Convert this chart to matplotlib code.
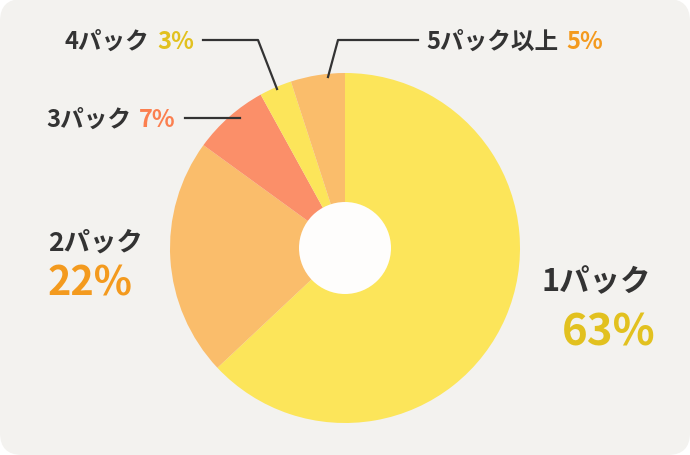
import matplotlib
matplotlib.use("Agg")
import matplotlib.pyplot as plt
from matplotlib.patches import FancyBboxPatch, Circle

plt.rcParams['font.family'] = ['Noto Sans CJK JP', 'DejaVu Sans']

categories = ['1パック', '2パック', '3パック', '4パック', '5パック以上']
values = [63, 22, 7, 3, 5]
pct_labels = ['63%', '22%', '7%', '3%', '5%']
slice_colors = ['#fce55a', '#fabd6b', '#fb8f69', '#fce55a', '#fabd6b']
pct_colors = ['#e2c11f', '#f39a1e', '#fb7f4f', '#e2c11f', '#f39a1e']
text_color = '#333333'

W, H = 690, 456
fig = plt.figure(figsize=(W / 100, H / 100), dpi=100, facecolor='white')
ax = fig.add_axes([0, 0, 1, 1])

def Y(y):
    return H - y

cx, cy, r = 345, Y(249), 175
ax.pie(values, colors=slice_colors, startangle=90, counterclock=False,
       radius=r, center=(cx, cy), frame=True,
       wedgeprops=dict(edgecolor='none', linewidth=0, zorder=2))
ax.set_xlim(0, W)
ax.set_ylim(0, H)
ax.set_aspect('equal')
ax.axis('off')

bg = FancyBboxPatch((0, 0), W, H, boxstyle="round,pad=0,rounding_size=22",
                    facecolor='#f3f2ef', edgecolor='none', zorder=0)
ax.add_patch(bg)
ax.add_patch(Circle((cx, cy), 46, facecolor='#fefdfc', edgecolor='none', zorder=5))

# leader lines
lc = '#333333'
ax.plot([185, 240], [Y(119), Y(119)], color=lc, lw=1.6, zorder=6)
ax.plot([203, 258, 277], [Y(41), Y(41), Y(90)], color=lc, lw=1.6, zorder=6)
ax.plot([328, 338, 418], [Y(78), Y(41), Y(41)], color=lc, lw=1.6, zorder=6)

renderer = fig.canvas.get_renderer()

def width_of(t):
    bb = t.get_window_extent(renderer=renderer)
    return bb.width

small = 17
gap = 8
# 4パック 3% (right aligned at 194)
t = ax.text(194, Y(42), pct_labels[3], color=pct_colors[3], fontsize=small,
            fontweight='bold', ha='right', va='center')
w = width_of(t)
ax.text(194 - w - gap, Y(42), categories[3], color=text_color, fontsize=small,
        fontweight='bold', ha='right', va='center')
# 3パック 7% (right aligned at 176)
t = ax.text(176, Y(120), pct_labels[2], color=pct_colors[2], fontsize=small,
            fontweight='bold', ha='right', va='center')
w = width_of(t)
ax.text(176 - w - gap, Y(120), categories[2], color=text_color, fontsize=small,
        fontweight='bold', ha='right', va='center')
# 5パック以上 5% (left aligned at 426)
t = ax.text(426, Y(42), categories[4], color=text_color, fontsize=small,
            fontweight='bold', ha='left', va='center')
w = width_of(t)
ax.text(426 + w + gap, Y(42), pct_labels[4], color=pct_colors[4], fontsize=small,
        fontweight='bold', ha='left', va='center')
# 2パック 22%
ax.text(48, Y(243), categories[1], color=text_color, fontsize=19,
        fontweight='bold', ha='left', va='center')
ax.text(48, Y(284), pct_labels[1], color=pct_colors[1], fontsize=28.5,
        fontweight='bold', ha='left', va='center')
# 1パック 63%
ax.text(542, Y(282), categories[0], color=text_color, fontsize=22,
        fontweight='bold', ha='left', va='center')
ax.text(656, Y(333), pct_labels[0], color=pct_colors[0], fontsize=31.5,
        fontweight='bold', ha='right', va='center')

fig.savefig('out.png', dpi=100, facecolor='white')
